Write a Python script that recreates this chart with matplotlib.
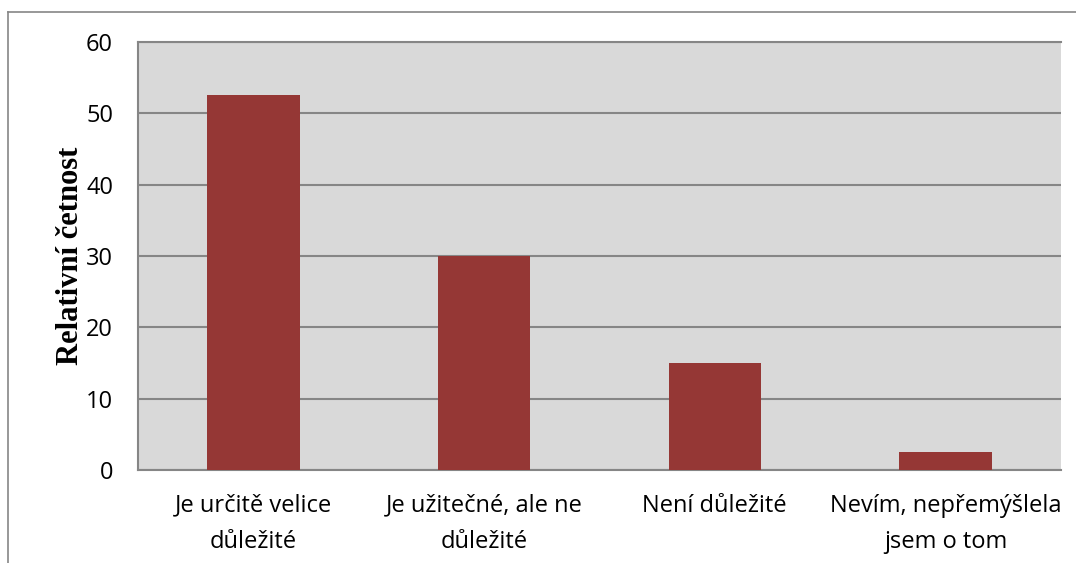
import matplotlib.pyplot as plt
from matplotlib.lines import Line2D

# Data
categories = ['Je určitě velice\ndůležité', 'Je užitečné, ale ne\ndůležité',
              'Není důležité', 'Nevím, nepřemýšlela\njsem o tom']
values = [52.5, 30, 15, 2.5]
yticks = [0, 10, 20, 30, 40, 50, 60]

fig = plt.figure(figsize=(10.76, 5.63), dpi=100)
ax = fig.add_axes([0.1283, 0.1652, 0.8575, 0.7602])

ax.set_facecolor('#D9D9D9')
x = range(len(categories))
ax.bar(x, values, width=0.4, color='#953735', zorder=3)

ax.set_ylim(0, 60)
ax.set_xlim(-0.5, len(categories) - 0.5)
ax.set_yticks(yticks)
ax.yaxis.grid(True, color='#868686', linewidth=1.5, zorder=1)
ax.set_axisbelow(True)

ax.set_xticks(list(x))
ax.set_xticklabels(categories, fontsize=17, family='Open Sans', linespacing=1.7)
for lab in ax.get_yticklabels():
    lab.set_fontsize(17)
    lab.set_family('Open Sans')
ax.tick_params(axis='both', length=0)
ax.tick_params(axis='y', pad=18)
ax.tick_params(axis='x', pad=17)

for side in ['left', 'bottom', 'top']:
    ax.spines[side].set_color('#868686')
    ax.spines[side].set_linewidth(1.5)
ax.spines['right'].set_visible(False)

ax.set_ylabel('Relativní četnost', fontsize=22, fontweight='bold',
              family='Liberation Serif', labelpad=1)

# outer chart frame (left and top edges visible)
fig.add_artist(Line2D([8 / 1076, 8 / 1076], [0, 1 - 12 / 563],
                      transform=fig.transFigure, color='#868686', linewidth=1.2))
fig.add_artist(Line2D([8 / 1076, 1], [1 - 12 / 563, 1 - 12 / 563],
                      transform=fig.transFigure, color='#868686', linewidth=1.2))

fig.savefig('out.png', dpi=100)
